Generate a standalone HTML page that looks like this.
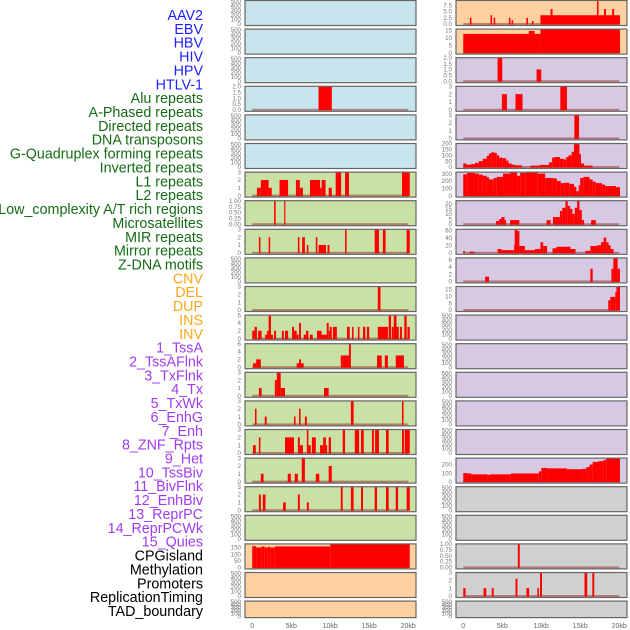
<!DOCTYPE html>
<html><head><meta charset="utf-8"><style>
body{margin:0;background:#fff;}
svg{display:block;font-family:"Liberation Sans",sans-serif;}
</style></head><body>
<svg id="chart" width="630" height="630" viewBox="0 0 630 630"></svg>
<script>
const labels=["AAV2","EBV","HBV","HIV","HPV","HTLV-1","Alu repeats","A-Phased repeats","Directed repeats","DNA transposons","G-Quadruplex forming repeats","Inverted repeats","L1 repeats","L2 repeats","Low_complexity A/T rich regions","Microsatellites","MIR repeats","Mirror repeats","Z-DNA motifs","CNV","DEL","DUP","INS","INV","1_TssA","2_TssAFlnk","3_TxFlnk","4_Tx","5_TxWk","6_EnhG","7_Enh","8_ZNF_Rpts","9_Het","10_TssBiv","11_BivFlnk","12_EnhBiv","13_ReprPC","14_ReprPCWk","15_Quies","CPGisland","Methylation","Promoters","ReplicationTiming","TAD_boundary"];
const labelGroups=[6,13,5,15,5];
const groupColors=["#1f1fff","#166b16","#ffa51c","#a03cf0","#000000"];
const xTickKb=[0,5,10,15,20];
const xTickLabels=["0","5kb","10kb","15kb","20kb"];
const emptyTicks=["0","100","200","300","400","500"];
const t3=["0","1","2","3"], t2=["0.0","0.5","1.0","1.5","2.0"], t1=["0.00","0.25","0.50","0.75","1.00"], t6=["0","2","4","6"];
// segments: [startKb, endKb, value]
const segL3=[[8.5,10.2,2]];
const segL6=[[0.6,1.1,1],[1.1,2.1,2],[2.1,2.5,1],[3.5,4.6,2],[5.6,6.1,2],[6.1,6.5,1],[7.4,8.7,2],[8.7,8.9,1],[8.9,9.4,2],[9.8,10.2,1],[10.7,11.4,3],[11.9,12.4,3],[19.2,20.2,3]];
const segL7=[[2.8,3.0,1],[4.1,4.25,1]];
const segL8=[[0.85,1.05,2],[2.1,2.3,2],[5.85,6.05,2],[6.4,6.75,2],[7,7.2,1],[8.15,8.35,2],[8.5,9.45,1],[9.65,9.9,1],[11.9,12.1,3],[15.7,16.25,3],[16.75,17.1,3],[19.8,20.2,3]];
const segL10=[[16.1,16.45,3]];
const segL11=[[0,0.3,2],[0.3,0.6,3],[0.75,1.2,2],[1.65,1.9,1],[1.9,2.1,2],[2.1,2.4,6],[2.4,2.65,1],[2.8,3.05,2],[3.8,4.05,2],[4.2,4.6,2],[5.1,5.35,3],[5.35,5.7,2],[5.7,5.95,1],[6,6.25,4],[6.6,6.9,1],[6.9,7.2,2],[7.4,7.75,1],[8.3,8.9,2],[8.9,9.55,1],[9.55,9.8,4],[9.8,9.95,2],[9.95,10.2,3],[10.35,10.85,3],[12.15,12.5,3],[12.8,13,3],[13.55,13.75,3],[14.2,14.5,3],[14.7,15,3],[16.1,17.4,3],[17.5,17.8,6],[17.9,18.15,3],[18.15,18.5,6],[18.5,18.8,3],[18.95,19.2,3],[19.5,19.8,6],[19.9,20.2,3]];
const segL12=[[0.1,0.5,1],[0.5,1.1,2],[5.7,6,1],[6,6.25,2],[6.25,6.6,1],[11.35,11.6,3],[11.6,12.4,3],[12.4,12.65,6],[16,16.6,3],[17,17.4,3],[18.4,19.45,3]];
const segL13=[[0.85,1.2,1],[2.9,3.15,2],[3.15,3.65,3],[3.65,4.2,1],[9.2,9.8,1]];
const segL14=[[0.35,0.55,2],[1.6,1.85,1],[5.35,5.55,1],[6,6.2,2],[6.75,7,1],[12.65,13,3],[19.2,19.4,3]];
const segL15=[[0.1,0.45,1],[0.85,1.05,2],[4.2,5.35,2],[5.85,6.1,2],[6.1,6.5,1],[7,7.2,3],[7.2,7.5,1],[7.65,8.15,2],[8.7,9.1,1],[9.1,9.45,2],[9.45,9.6,1],[9.8,10.1,2],[11.6,11.9,3],[13.15,13.7,3],[13.95,14.3,3],[15.35,15.6,3],[15.75,16.25,3],[17.15,17.5,3],[19.2,19.45,3],[19.55,20.2,3]];
const segL16=[[1.1,1.45,1],[4.55,4.95,1],[5.45,5.85,1],[6.35,6.75,3],[8.15,8.6,1],[9.8,10.2,2]];
const segL17=[[0.85,1.1,2],[1.35,1.7,2],[3.95,4.3,1],[5.85,6.1,2],[7,7.25,1],[11.35,11.6,3],[12.65,13,3],[13.95,14.2,3],[15.7,16,3],[17.15,17.5,3],[18.4,18.7,3],[19.8,20.2,3]];
const segL19=[[0,0.5,160],[0.5,1.2,150],[1.2,1.6,158],[1.6,2,150],[2,2.3,155],[2.3,2.9,150],[2.9,10,158],[10,20.2,177]];
const segR0=[[0.85,1.05,2.5],[3.5,3.7,3.5],[3.9,4.1,2.5],[5.85,6.05,2.5],[6.2,6.4,1.5],[8.1,8.3,2.5],[8.8,9,1.2],[9.9,20.1,3.5],[11.2,11.45,6],[17.15,17.35,9.4],[18.05,18.3,6],[19.1,19.35,6]];
const segR1=[[0,9.9,12.5],[8.4,9.15,14.5],[9.9,20.1,15.7]];
const segR2=[[4.4,5,2],[9.4,10,1]];
const segR3=[[4.95,5.6,2],[6.7,7.6,2],[12.45,13.3,3]];
const segR4=[[14.25,14.85,3]];
const segR5=[[0,0.4,30],[0.4,1,20],[1,1.5,25],[1.5,2,35],[2,2.5,50],[2.5,3,70],[3,3.3,95],[3.3,3.6,115],[3.6,4,125],[4,4.3,120],[4.3,4.6,100],[4.6,5,80],[5,5.5,75],[5.5,5.8,55],[5.8,6.2,30],[6.2,6.6,20],[6.6,7.5,15],[8.6,9.8,12],[9.8,11,18],[11,11.4,40],[11.4,11.7,80],[11.7,12.4,85],[12.4,12.9,70],[12.9,13.2,65],[13.2,13.5,85],[13.5,13.9,100],[13.9,14.2,130],[14.2,14.9,195],[14.9,15.1,110],[15.1,15.5,30],[15.5,16.6,12]];
const segR6=[[0,0.5,290],[0.5,1.5,310],[1.5,2,300],[2,2.5,285],[2.5,3,270],[3,3.3,250],[3.3,3.9,220],[3.9,4.3,240],[4.3,5.1,255],[5.1,6,300],[6,6.9,315],[6.9,7.3,270],[7.3,8,310],[8,9.5,315],[9.5,10.5,300],[10.5,11.5,240],[11.5,12,235],[12,12.5,200],[12.5,13,170],[13,13.6,175],[13.6,14.2,160],[14.2,14.5,120],[14.5,14.8,60],[14.8,15,140],[15,15.4,240],[15.4,16.2,255],[16.2,16.6,220],[16.6,17,190],[17,17.8,170],[17.8,18.2,150],[18.2,19.6,130],[19.6,20.1,115]];
const segR7=[[4.2,4.6,3],[4.6,4.9,5],[4.9,5.3,7],[5.3,5.5,4],[6,7.2,4],[10.7,11.2,4],[11.5,12.4,7],[12.4,12.7,13],[12.7,13.1,16],[13.1,13.4,23],[13.4,13.7,18],[13.7,14,15],[14,14.3,10],[14.3,14.6,16],[14.6,14.9,23],[14.9,15.2,14],[15.2,15.5,4],[16.4,17,4]];
const segR8=[[0,0.2,5],[0.85,1.45,3],[4.4,4.9,10],[4.9,6.5,7],[6.5,6.6,20],[6.6,6.9,62],[6.9,7.2,58],[7.2,7.9,18],[7.9,9.2,7],[9.2,9.9,10],[9.9,10.25,28],[10.25,10.75,18],[11.45,11.95,12],[11.95,13.75,16],[13.75,14.4,10],[15.66,16.3,5],[16.3,17.15,18],[17.15,17.66,20],[17.66,18,28],[18,18.34,40],[18.34,18.64,28],[18.64,18.9,20],[18.9,19.28,10]];
const segR9=[[2.8,3.3,1.3],[16.3,16.6,3.5],[19,19.25,3.5],[19.25,19.8,6.5],[19.8,20.1,3.5]];
const segR10=[[18.6,18.85,7],[18.85,19.5,9.5],[19.5,19.65,13],[19.65,20.1,17]];
const segR16=[[0,0.55,100],[0.55,1.05,95],[1.05,3.1,85],[3.1,3.5,80],[3.5,6.1,85],[6.1,9.7,95],[9.7,10,120],[10,10.75,160],[10.75,13.3,155],[13.3,15.35,145],[15.35,15.8,150],[15.8,16.2,170],[16.2,16.6,200],[16.6,17.35,230],[17.35,18,240],[18,18.35,255],[18.35,20.1,275]];
const segR19=[[7.0,7.25,1]];
const segR20=[[0,0.3,1],[2.6,2.95,1],[3.65,3.9,1],[6.7,6.95,2.2],[8.1,8.45,1],[9.5,9.7,1],[9.85,10.1,3],[15.55,15.9,3],[16.55,16.8,3]];

const BLUE="#c8e4ec",GREEN="#c9e1a5",ORANGE="#ffd1a1",PURPLE="#d7c8e3",GREY="#d0d0d0";
const panels=[];
function addEmpty(c,r,bg){panels.push([c,r,bg,null,520,emptyTicks]);}
for(let r=0;r<3;r++)addEmpty(0,r,BLUE);
panels.push([0,3,BLUE,segL3,2,t2]);
addEmpty(0,4,BLUE);addEmpty(0,5,BLUE);
panels.push([0,6,GREEN,segL6,3,t3]);
panels.push([0,7,GREEN,segL7,1,t1]);
panels.push([0,8,GREEN,segL8,3,t3]);
addEmpty(0,9,GREEN);
panels.push([0,10,GREEN,segL10,3,t3]);
panels.push([0,11,GREEN,segL11,6,t6]);
panels.push([0,12,GREEN,segL12,6,t6]);
panels.push([0,13,GREEN,segL13,3,t3]);
panels.push([0,14,GREEN,segL14,3,t3]);
panels.push([0,15,GREEN,segL15,3,t3]);
panels.push([0,16,GREEN,segL16,3,t3]);
panels.push([0,17,GREEN,segL17,3,t3]);
addEmpty(0,18,GREEN);
panels.push([0,19,ORANGE,segL19,177,["0","50","100","150"]]);
addEmpty(0,20,ORANGE);addEmpty(0,21,ORANGE);
panels.push([1,0,ORANGE,segR0,9.4,["0.0","2.5","5.0","7.5"]]);
panels.push([1,1,ORANGE,segR1,15.7,["0","5","10","15"]]);
panels.push([1,2,PURPLE,segR2,2,t2]);
panels.push([1,3,PURPLE,segR3,3,t3]);
panels.push([1,4,PURPLE,segR4,3,t3]);
panels.push([1,5,PURPLE,segR5,200,["0","50","100","150","200"]]);
panels.push([1,6,PURPLE,segR6,320,["0","100","200","300"]]);
panels.push([1,7,PURPLE,segR7,23,["0","5","10","15","20"]]);
panels.push([1,8,PURPLE,segR8,62,["0","20","40","60"]]);
panels.push([1,9,PURPLE,segR9,6.5,t6]);
panels.push([1,10,PURPLE,segR10,17,["0","5","10","15"]]);
for(let r=11;r<16;r++)addEmpty(1,r,PURPLE);
panels.push([1,16,PURPLE,segR16,275,["0","100","200"]]);
addEmpty(1,17,GREY);addEmpty(1,18,GREY);
panels.push([1,19,GREY,segR19,1,t1]);
panels.push([1,20,GREY,segR20,3,t3]);
addEmpty(1,21,GREY);

const NS="http://www.w3.org/2000/svg";
const svg=document.getElementById('chart');
function mk(tag,attrs,parent){const e=document.createElementNS(NS,tag);for(const k in attrs)e.setAttribute(k,attrs[k]);(parent||svg).appendChild(e);return e;}
const colX=[245,456], PW=171;
function rowTop(r){return 0.5+r*28.6;}
function rowH(r){return r===21?16.5:25;}
function xs(c,kb){return colX[c]+(kb+0.93)*PW/21.93;}

let li=0;
labelGroups.forEach((n,g)=>{for(let k=0;k<n;k++){
  const t=mk('text',{x:203,y:15+li*13.86+5,'text-anchor':'end','font-size':14.3,fill:groupColors[g]});
  
  
  t.textContent=labels[li];li++;}});

panels.forEach(p=>{
  const [c,r,bg,segs,ymax,ticks]=p;
  const top=rowTop(r),h=rowH(r),x0=colX[c];
  const g=mk('g',{});
  
  
  const bgr=mk('rect',{x:x0,y:top,width:PW,height:h,fill:bg},g);
  
  
  const base=top+h-1.5;
  const ys=v=>base-(h-1.5)*v/ymax;
  const tv=ticks.map(Number);
  const tmax=segs?ymax:520;
  ticks.forEach((tl,i)=>{
    const ty=base-(h-1.5)*tv[i]/tmax;
    const t=mk('text',{x:x0-4,y:ty+2.2,'text-anchor':'end','font-size':6.2,fill:'#777'},g);
    
    
    t.textContent=tl;
  });
  if(segs){
    const bl=mk('rect',{x:xs(c,0),y:base-1,width:xs(c,20)-xs(c,0),height:2,fill:'rgba(140,20,20,0.45)'},g);
    
    
    segs.forEach(s=>{
      const y=ys(s[2]);
      const b=mk('rect',{x:xs(c,s[0]),y:y,width:Math.max(0.8,xs(c,s[1])-xs(c,s[0])),height:base-y+0.5,fill:'#ff0000'},g);
      
      
    });
  }
  const br=mk('rect',{x:x0,y:top,width:PW,height:h,fill:'none',stroke:'#666','stroke-width':1.2},g);
  
  
});

[0,1].forEach(c=>{xTickKb.forEach((kb,i)=>{
  const t=mk('text',{x:xs(c,kb),y:628,'text-anchor':'middle','font-size':7,fill:'#666'});
  
  
  t.textContent=xTickLabels[i];
});});
</script>
</body></html>
